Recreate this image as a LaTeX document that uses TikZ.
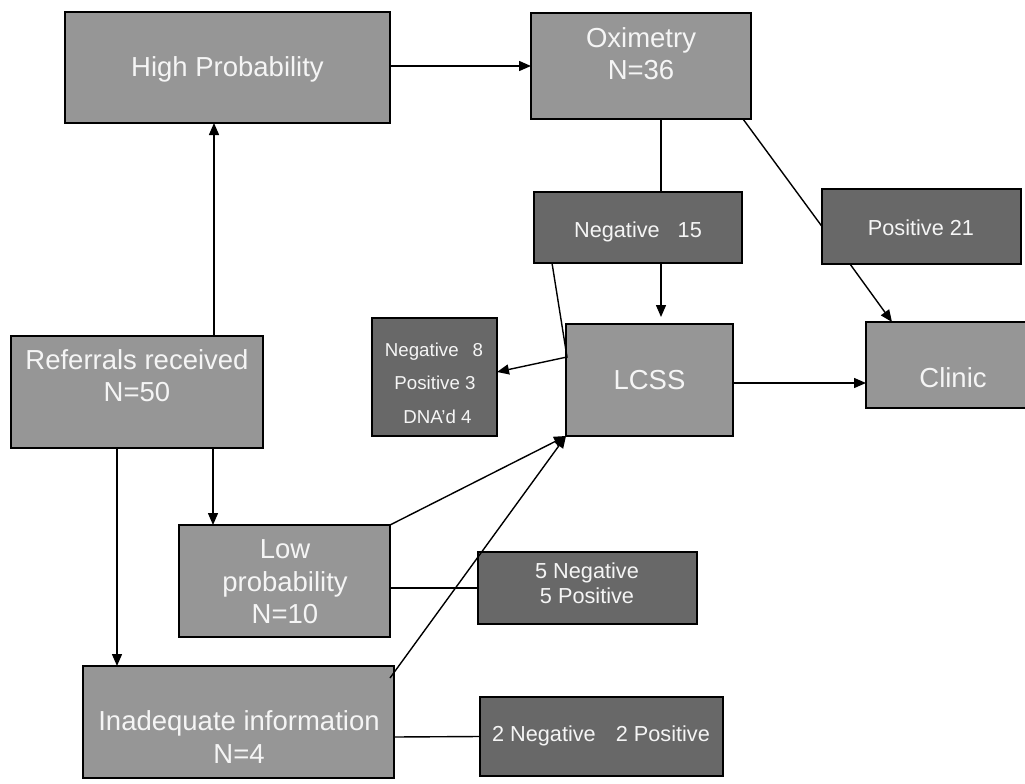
\documentclass[tikz,border=0pt]{standalone}
\usepackage{fontspec}
\setmainfont{Liberation Sans}
\usetikzlibrary{arrows.meta,calc}
\definecolor{midgray}{RGB}{150,150,150}
\definecolor{darkgray}{RGB}{104,104,104}
\definecolor{txtwhite}{RGB}{245,245,245}
\tikzset{
  boxbase/.style={draw=black, line width=1.4pt, inner sep=0pt, outer sep=0pt},
  midbox/.style={boxbase, fill=midgray},
  darkbox/.style={boxbase, fill=darkgray},
  bigtxt/.style={text=txtwhite, font=\fontsize{27.5}{32}\selectfont, anchor=base, inner sep=0pt},
  medtxt/.style={text=txtwhite, font=\fontsize{21.7}{25}\selectfont, anchor=base, inner sep=0pt},
  smalltxt/.style={text=txtwhite, font=\fontsize{18.7}{22}\selectfont, anchor=base, inner sep=0pt},
  arr/.style={line width=1.4pt, -{Triangle[length=12pt,width=10pt]}},
  ln/.style={line width=1.4pt},
}
\newcommand{\boxat}[6]{\node[#1, minimum width={#5-#3}, minimum height={#6-#4}] (#2) at ({(#3+#5)/2},{(#4+#6)/2}) {};}
\begin{document}
\begin{tikzpicture}[x=1pt,y=-1pt]
\useasboundingbox (0,0) rectangle (1025,784);
% boxes
\boxat{midbox}{hp}{65}{12}{390}{123}
\boxat{midbox}{ox}{531}{13}{751}{119}
\boxat{darkbox}{neg15}{534}{192}{742}{263}
\boxat{darkbox}{pos21}{822}{189}{1021}{264}
\boxat{midbox}{lcss}{566}{324}{733}{436}
\boxat{midbox}{clinic}{866}{322}{1040}{408}
\boxat{darkbox}{neg8}{372}{318}{497}{436}
\boxat{midbox}{ref}{11}{336}{263}{448}
\boxat{midbox}{low}{179}{525}{390}{637}
\boxat{darkbox}{np5}{478}{552}{697}{624}
\boxat{midbox}{inad}{83}{666}{394}{778}
\boxat{darkbox}{np2}{480}{697}{723}{776}
% texts
\node[bigtxt] (hpt) at (227.5,77) {High Probability};
\node[bigtxt] (oxa) at (641,48) {Oximetry};
\node[bigtxt] (oxb) at (641,80) {N=36};
\node[medtxt] (neg15t) at (638,237) {Negative\hspace{18pt}15};
\node[medtxt] (pos21t) at (921,235) {Positive 21};
\node[bigtxt] (lcsst) at (649.5,389) {LCSS};
\node[bigtxt] (clinict) at (953,387) {Clinic};
\node[smalltxt] (neg8a) at (434,356) {Negative\hspace{14pt}8};
\node[smalltxt] (neg8b) at (435,389) {Positive 3};
\node[smalltxt] (neg8c) at (437.5,423) {DNA’d 4};
\node[bigtxt] (refa) at (137,369) {Referrals received};
\node[bigtxt] (refb) at (137,401) {N=50};
\node[bigtxt] (lowa) at (285,558) {Low};
\node[bigtxt] (lowb) at (285,591) {probability};
\node[bigtxt] (lowc) at (285,623) {N=10};
\node[medtxt] (np5a) at (587,578) {5 Negative};
\node[medtxt] (np5b) at (587,603) {5 Positive};
\node[bigtxt] (inada) at (239,730) {Inadequate information};
\node[bigtxt] (inadb) at (239,763) {N=4};
\node[medtxt] (np2t) at (601,741) {2 Negative\hspace{20pt}2 Positive};
% connectors
\draw[arr] ([yshift=1.5pt]hp.east) -- ([yshift=1.5pt]hp.east -| ox.west);
\draw[arr] ([xshift=77pt]ref.north) -- ([xshift=77pt]ref.north |- hp.south);
\draw[ln] ([xshift=20pt]ox.south) -- ([xshift=20pt]ox.south |- neg15.north);
\draw[ln] ([xshift=-8pt]ox.south east) -- (pos21.west);
\draw[arr] ([xshift=28pt]pos21.south west) -- ([xshift=26pt]clinic.north west);
\draw[arr, shorten >=7pt] ([xshift=23pt]neg15.south) -- ([xshift=23pt]neg15.south |- lcss.north);
\draw[arr] ([xshift=18pt]neg15.south west) -- ([xshift=1pt,yshift=23pt]lcss.west) -- ([yshift=5pt]neg8.east);
\draw[arr] ([yshift=-3pt]lcss.east) -- ([yshift=-3pt]lcss.east -| clinic.west);
\draw[arr] ([xshift=76pt]ref.south) -- ([xshift=76pt]ref.south |- low.north);
\draw[arr] ([xshift=-20pt]ref.south) -- ([xshift=-20pt]ref.south |- inad.north);
\draw[arr] (low.north east) -- (lcss.south west);
\draw[arr] ([xshift=-4pt,yshift=-12pt]inad.north east) -- (lcss.south west);
\draw[ln] ([yshift=-7pt]low.east) -- (np5.west);
\draw[ln] ([yshift=-15pt]inad.east) -- (np2.west);
\end{tikzpicture}
\end{document}
